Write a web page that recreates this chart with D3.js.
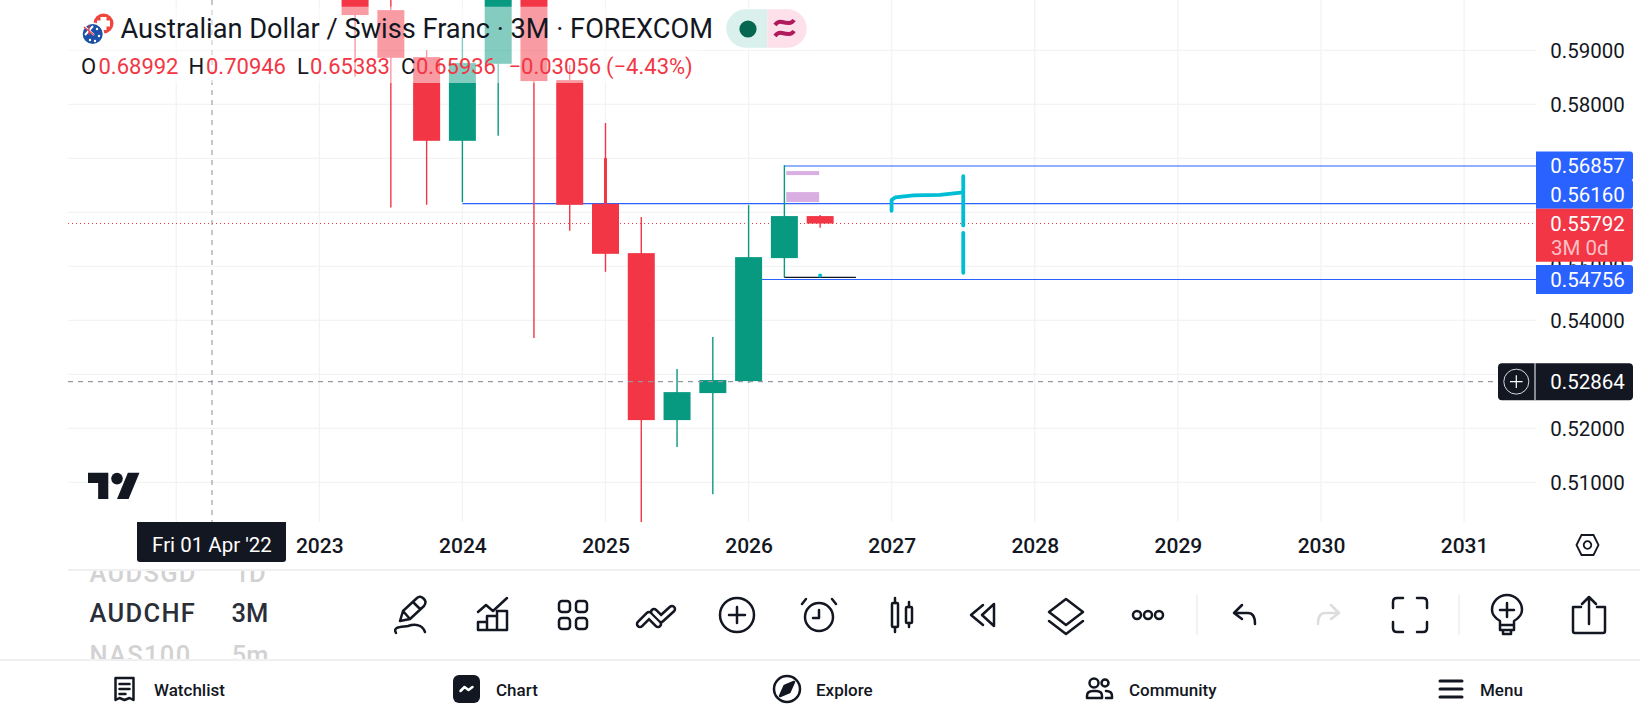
<!DOCTYPE html>
<html>
<head>
<meta charset="utf-8">
<title>AUDCHF 3M</title>
<script src="https://cdn.jsdelivr.net/npm/d3@7"></script>
<style>
  html, body { margin: 0; padding: 0; background: #fff; overflow: hidden; }
  svg { display: block; font-family: Roboto, sans-serif; }
</style>
</head>
<body>
<div id="chart"></div>
<script>
// Candles, quarter start as decimal year
const quarters = [2023.25, 2023.5, 2023.75, 2024, 2024.25, 2024.5, 2024.75, 2025, 2025.25, 2025.5, 2025.75, 2026, 2026.25, 2026.5];
const opens  = [0.60300, 0.59744, 0.58874, 0.57324, 0.58750, 0.60208, 0.58448, 0.56157, 0.55244, 0.52152, 0.52652, 0.52874, 0.55152, 0.55930];
const highs  = [0.60485, 0.60300, 0.59004, 0.59244, 0.60393, 0.60393, 0.58726, 0.57652, 0.55911, 0.53096, 0.53689, 0.56133, 0.56874, 0.55948];
const lows   = [0.58509, 0.56091, 0.56139, 0.56189, 0.57417, 0.53670, 0.55657, 0.54898, 0.50250, 0.51652, 0.50781, 0.52843, 0.54794, 0.55713];
const closes = [0.59652, 0.58861, 0.57324, 0.58763, 0.60208, 0.58430, 0.56139, 0.55231, 0.52152, 0.52670, 0.52893, 0.55170, 0.55930, 0.55792];

const priceTicks = [0.51, 0.52, 0.53, 0.54, 0.55, 0.56, 0.57, 0.58, 0.59];
// the others sit under the price tags
const priceLabels = [0.51, 0.52, 0.54, 0.55, 0.58, 0.59];
const yearTicks = [2023, 2024, 2025, 2026, 2027, 2028, 2029, 2030, 2031];
const gridYears = [2022].concat(yearTicks);

// Drawings on the chart: [price, from year]
const blueLevels = [[0.56857, 2026.25], [0.56160, 2024], [0.54756, 2026]];
const lastPrice = 0.55792;
const crossPrice = 0.52864;
const crossTime = 2022.25;
const purpleZones = [[2026.263, 2026.493, 0.56763, 0.56689], [2026.263, 2026.493, 0.56374, 0.56189]];
const blackSegment = [[2026.25, 0.54794], [2026.75, 0.54794]];
const brushDot = [2026.5, 0.54830];
const brushCurve = [[2026.999, 0.56028], [2026.999, 0.56226], [2027.024, 0.56276], [2027.152, 0.56313], [2027.339, 0.56324], [2027.498, 0.56369]];
const brushBars = [[[2027.5, 0.5667], [2027.5, 0.55757]], [[2027.5, 0.5562], [2027.5, 0.5488]]];
const spikeWick = [2025, 0.57004, 0.5616];

const titleText = "Australian Dollar / Swiss Franc · 3M · FOREXCOM";
const ohlcLabels = ["O", "H", "L", "C"];
const ohlcValues = ["0.68992", "0.70946", "0.65383", "0.65936"];
const ohlcChange = "−0.03056";
const ohlcPercent = "(−4.43%)";
const watchSymbols = ["AUDSGD", "AUDCHF", "NAS100"];
const watchFrames = ["1D", "3M", "5m"];
const navLabels = ["Watchlist", "Chart", "Explore", "Community", "Menu"];

const width = 1640, height = 720;
const RED = "#f23645", GREEN = "#089981", BLUE = "#2962ff", INK = "#131722", GRID = "#f2f3f5", CYAN = "#00bcd4";

const svg = d3.select("#chart").append("svg")
  .attr("width", width)
  .attr("height", height);

const x = d3.scaleLinear().domain([2022, 2031]).range([176.2, 1464.1]);
const y = d3.scaleLinear().domain([0.50, 0.59]).range([536.3, 50.3]);

const plotLeft = 68, plotRight = 1536, plotBottom = 522;
const candleWidth = 27;

svg.append("clipPath").attr("id", "plot")
  .append("rect").attr("x", plotLeft).attr("y", 0).attr("width", plotRight - plotLeft).attr("height", plotBottom);

const plot = svg.append("g").attr("clip-path", "url(#plot)");

// Grid
plot.selectAll(".gridH").data(priceTicks).enter().append("line")
  .attr("x1", plotLeft).attr("x2", plotRight)
  .attr("y1", d => y(d)).attr("y2", d => y(d))
  .attr("stroke", GRID).attr("stroke-width", 1.3);
plot.selectAll(".gridV").data(gridYears).enter().append("line")
  .attr("x1", d => x(d)).attr("x2", d => x(d))
  .attr("y1", 0).attr("y2", plotBottom)
  .attr("stroke", GRID).attr("stroke-width", 1.3);

// Last price dotted line
plot.append("line")
  .attr("x1", plotLeft).attr("x2", plotRight)
  .attr("y1", y(lastPrice)).attr("y2", y(lastPrice))
  .attr("stroke", RED).attr("stroke-width", 1.4).attr("stroke-dasharray", "1.4 2.6")
  .attr("shape-rendering", "crispEdges");

// Horizontal rays
plot.selectAll(".ray").data(blueLevels).enter().append("line")
  .attr("x1", d => x(d[1])).attr("x2", plotRight)
  .attr("y1", d => y(d[0])).attr("y2", d => y(d[0]))
  .attr("stroke", BLUE).attr("stroke-width", 1.1);

// Candles
const candleColor = i => closes[i] >= opens[i] ? GREEN : RED;
plot.selectAll(".wick").data(quarters).enter().append("line")
  .attr("x1", d => x(d)).attr("x2", d => x(d))
  .attr("y1", (d, i) => y(highs[i])).attr("y2", (d, i) => y(lows[i]))
  .attr("stroke", (d, i) => candleColor(i)).attr("stroke-width", 1.4);
plot.append("line")
  .attr("x1", x(spikeWick[0])).attr("x2", x(spikeWick[0]))
  .attr("y1", y(spikeWick[1])).attr("y2", y(spikeWick[2]))
  .attr("stroke", RED).attr("stroke-width", 3);
plot.selectAll(".body").data(quarters).enter().append("rect")
  .attr("x", d => x(d) - candleWidth / 2)
  .attr("width", candleWidth)
  .attr("y", (d, i) => y(Math.max(opens[i], closes[i])))
  .attr("height", (d, i) => Math.abs(y(opens[i]) - y(closes[i])))
  .attr("fill", (d, i) => candleColor(i));

// Drawing tools
plot.selectAll(".zone").data(purpleZones).enter().append("rect")
  .attr("x", d => x(d[0])).attr("width", d => x(d[1]) - x(d[0]))
  .attr("y", d => y(d[2])).attr("height", d => y(d[3]) - y(d[2]))
  .attr("fill", "#d9aee2");

const line = d3.line().x(d => x(d[0])).y(d => y(d[1]));
plot.append("path").attr("d", line(blackSegment))
  .attr("fill", "none").attr("stroke", INK).attr("stroke-width", 1.4);
plot.append("circle").attr("cx", x(brushDot[0])).attr("cy", y(brushDot[1])).attr("r", 2).attr("fill", CYAN);
plot.append("path").attr("d", line(brushCurve))
  .attr("fill", "none").attr("stroke", CYAN).attr("stroke-width", 3.8)
  .attr("stroke-linecap", "round").attr("stroke-linejoin", "round");
plot.selectAll(".brushBar").data(brushBars).enter().append("path")
  .attr("d", d => line(d))
  .attr("fill", "none").attr("stroke", CYAN).attr("stroke-width", 3.8).attr("stroke-linecap", "round");

// Crosshair
plot.append("line")
  .attr("x1", plotLeft).attr("x2", 1498)
  .attr("y1", y(crossPrice)).attr("y2", y(crossPrice))
  .attr("stroke", "#9598a1").attr("stroke-dasharray", "5 5").attr("stroke-width", 1.1);
plot.append("line")
  .attr("x1", x(crossTime)).attr("x2", x(crossTime))
  .attr("y1", 0).attr("y2", plotBottom)
  .attr("stroke", "#9598a1").attr("stroke-dasharray", "5 5").attr("stroke-width", 1.1);

// White wash behind the legend text
plot.append("rect").attr("x", plotLeft).attr("y", 6.7).attr("width", 747).attr("height", 43.5).attr("fill", "#fff").attr("fill-opacity", 0.5);
plot.append("rect").attr("x", plotLeft).attr("y", 50.2).attr("width", 632).attr("height", 32.8).attr("fill", "#fff").attr("fill-opacity", 0.5);

// Price axis
const priceAxis = d3.axisRight(y).tickValues(priceLabels).tickFormat(d3.format(".5f")).tickSize(0);
const gPrice = svg.append("g").attr("transform", "translate(1587.5,0)").call(priceAxis);
gPrice.select(".domain").remove();
gPrice.selectAll("text")
  .attr("x", 0).attr("dy", "0.34em").attr("text-anchor", "middle")
  .attr("font-family", "Roboto, sans-serif").attr("font-size", 20.5).attr("fill", INK);

// Time axis
const timeAxis = d3.axisBottom(x).tickValues(yearTicks).tickFormat(d3.format("d")).tickSize(0);
const gTime = svg.append("g").attr("transform", "translate(0,545.5)").call(timeAxis);
gTime.select(".domain").remove();
gTime.selectAll("text")
  .attr("y", 0).attr("dy", "0.38em")
  .attr("font-family", "Roboto, sans-serif").attr("font-size", 21).attr("font-weight", 500).attr("fill", INK);

// Price tags
const tagX = 1536, tagW = 97, tagH = 29;
function tag(cy, h, fill) {
  svg.append("path")
    .attr("d", `M${tagX} ${cy - h / 2}H${tagX + tagW - 3}q3 0 3 3V${cy + h / 2 - 3}q0 3 -3 3H${tagX}Z`)
    .attr("fill", fill);
}
function tagText(cy, txt, fill) {
  svg.append("text").attr("x", 1587.5).attr("y", cy).attr("dy", "0.36em")
    .attr("text-anchor", "middle").attr("font-size", 20.5).attr("fill", fill || "#fff").text(txt);
}
const fmt = d3.format(".5f");
const redTop = y(lastPrice) - 14.7;
blueLevels.forEach(d => {
  const cy = Math.min(y(d[0]), d[0] > lastPrice ? redTop - 14.5 : 1e4);
  tag(cy, tagH, BLUE);
  tagText(cy, fmt(d[0]));
});
svg.append("path")
  .attr("d", `M${tagX} ${redTop}H${tagX + tagW}V${redTop + 50}q0 3 -3 3H${tagX}Z`)
  .attr("fill", RED);
tagText(y(lastPrice), fmt(lastPrice));
svg.append("text").attr("x", 1551).attr("y", y(lastPrice) + 24.5).attr("dy", "0.36em")
  .attr("font-size", 20.5).attr("fill", "#ffc0c6").text("3M 0d");

// Crosshair tags
const crossY = y(crossPrice);
svg.append("rect").attr("x", 1498).attr("y", crossY - 18.5).attr("width", 135).attr("height", 37).attr("rx", 4).attr("fill", INK);
svg.append("line").attr("x1", 1535).attr("x2", 1535).attr("y1", crossY - 18.5).attr("y2", crossY + 18.5).attr("stroke", "#fff");
svg.append("circle").attr("cx", 1516.3).attr("cy", crossY).attr("r", 12.5).attr("fill", "none").attr("stroke", "#d8d9dc").attr("stroke-width", 1);
svg.append("path").attr("d", `M1510 ${crossY}h12.6M1516.3 ${crossY - 6.3}v12.6`).attr("stroke", "#fff").attr("stroke-width", 1.2);
tagText(crossY, fmt(crossPrice));

svg.append("path").attr("d", "M137 522H286V559q0 3 -3 3H140q-3 0 -3 -3Z").attr("fill", INK);
svg.append("text").attr("x", x(crossTime)).attr("y", 545).attr("dy", "0.36em")
  .attr("text-anchor", "middle").attr("font-size", 20.5).attr("fill", "#fff").text("Fri 01 Apr '22");

// Legend
svg.append("text").attr("x", 120.5).attr("y", 38).attr("font-size", 27.2).attr("fill", INK).text(titleText);
const labelX = [81, 188.5, 297, 401], valueX = [98.5, 206, 310, 416];
svg.selectAll(".ohlcL").data(ohlcLabels).enter().append("text")
  .attr("x", (d, i) => labelX[i]).attr("y", 74).attr("font-size", 22).attr("fill", INK).text(d => d);
svg.selectAll(".ohlcV").data(ohlcValues).enter().append("text")
  .attr("x", (d, i) => valueX[i]).attr("y", 74).attr("font-size", 22).attr("fill", RED).text(d => d);
svg.append("text").attr("x", 508.5).attr("y", 74).attr("font-size", 22).attr("fill", RED).text(ohlcChange);
svg.append("text").attr("x", 606).attr("y", 74).attr("font-size", 22).attr("fill", RED).text(ohlcPercent);

// Flags
const flags = svg.append("g");
flags.append("circle").attr("cx", 103.5).attr("cy", 23.5).attr("r", 10).attr("fill", "#f0443f");
flags.append("path").attr("d", "M100.5 17h6v3.5h3.5v6h-3.5V30h-6v-3.5H97v-6h3.5Z").attr("fill", "#fff");
flags.append("circle").attr("cx", 92.7).attr("cy", 34).attr("r", 11.5).attr("fill", "#fff");
flags.append("circle").attr("cx", 92.7).attr("cy", 34).attr("r", 10).attr("fill", "#1c50a8");
flags.append("path").attr("d", "M84 26l10 9M93 26l-8 9").attr("stroke", "#fff").attr("stroke-width", 2);
flags.append("path").attr("d", "M84 27l10 8M89 25v10").attr("stroke", "#e33b4b").attr("stroke-width", 1.2);
flags.selectAll(".star").data([[90, 40], [97, 29], [99, 36], [95, 41]]).enter().append("circle")
  .attr("cx", d => d[0]).attr("cy", d => d[1]).attr("r", 1.2).attr("fill", "#fff");

// Market status pill
svg.append("path").attr("d", "M767.3 9.3H745.5a19.2 19.2 0 0 0 0 38.4H767.3Z").attr("fill", "#d9f0ec");
svg.append("path").attr("d", "M767.3 9.3H787.5a19.2 19.2 0 0 1 0 38.4H767.3Z").attr("fill", "#fde0ea");
svg.append("circle").attr("cx", 748).attr("cy", 29).attr("r", 8.6).attr("fill", "#05674f");
svg.append("path").attr("d", "M775 25q3 -4 7 -3t7 1q3 0 5 -3M775 36q3 -4 7 -3t7 1q3 0 5 -3")
  .attr("fill", "none").attr("stroke", "#b0195b").attr("stroke-width", 4);

// TradingView logo
const logo = svg.append("g").attr("transform", "translate(88,467) scale(1.45)").attr("fill", INK);
logo.append("path").attr("d", "M14 22H7V11H0V4h14v18zM28 22h-8l7.5-18h8L28 22z");
logo.append("circle").attr("cx", 20).attr("cy", 8).attr("r", 4);

// Settings hexagon
const hex = svg.append("g").attr("transform", "translate(1587.5,545)").attr("fill", "none").attr("stroke", INK).attr("stroke-width", 1.8);
hex.append("path").attr("d", "M-11 0L-6 -10H6L11 0L6 10H-6Z");
hex.append("circle").attr("r", 3.8);

// Panel separators
svg.append("line").attr("x1", plotLeft).attr("x2", width).attr("y1", 570).attr("y2", 570).attr("stroke", "#f0f0f0").attr("stroke-width", 2);
svg.append("line").attr("x1", 0).attr("x2", width).attr("y1", 660).attr("y2", 660).attr("stroke", "#f0f0f0").attr("stroke-width", 2);

// Watchlist wheel, the outer rows are cut by the panel
svg.append("clipPath").attr("id", "wheel")
  .append("rect").attr("x", 70).attr("y", 571).attr("width", 260).attr("height", 88);
const wheel = svg.append("g").attr("clip-path", "url(#wheel)");
const wheelY = [573, 613, 655], wheelFill = ["#d2d2d4", "#2a2e39", "#d2d2d4"];
wheel.selectAll(".sym").data(watchSymbols).enter().append("text")
  .attr("x", 89.5).attr("y", (d, i) => wheelY[i]).attr("dy", "0.36em")
  .attr("font-size", 25.5).attr("font-weight", 500).attr("letter-spacing", 1.3)
  .attr("fill", (d, i) => wheelFill[i]).text(d => d);
wheel.selectAll(".frame").data(watchFrames).enter().append("text")
  .attr("x", 250).attr("y", (d, i) => wheelY[i]).attr("dy", "0.36em").attr("text-anchor", "middle")
  .attr("font-size", 25.5).attr("font-weight", 500)
  .attr("fill", (d, i) => wheelFill[i]).text(d => d);

// Toolbar icons
function icon(cx, cy, col) {
  return svg.append("g").attr("transform", `translate(${cx},${cy})`)
    .attr("fill", "none").attr("stroke", col || INK).attr("stroke-width", 2.5)
    .attr("stroke-linejoin", "round").attr("stroke-linecap", "round");
}
const toolY = 615;
let ic = icon(411, toolY);
ic.append("path").attr("d", "M-11 6L-8 -4L6 -17Q9 -20 13 -16Q16 -13 13 -9L-1 4Z M2 -13L9 -6 M-8 -4L-1 4");
ic.append("path").attr("d", "M-15 18C-19 11 -8 12 -3 11C3 9 11 9 14 17");
ic = icon(493, toolY);
ic.append("path").attr("d", "M-15 15V7H-6V15Z M-6 15V1H4V15Z M4 15V-4H14V15Z M-15 -3L-7 -10L0 -4L14 -17");
ic = icon(573, toolY);
[[-14, -14], [3, -14], [-14, 3], [3, 3]].forEach(p => ic.append("rect").attr("x", p[0]).attr("y", p[1]).attr("width", 11).attr("height", 11).attr("rx", 3));
ic = icon(656, toolY);
ic.append("path").attr("d", "M-16 9L-7 0L2 9").attr("stroke-width", 8.5);
ic.append("path").attr("d", "M-2 -3L5 4L16 -6").attr("stroke-width", 8.5);
ic.append("path").attr("d", "M-16 9L-7 0L2 9").attr("stroke", "#fff").attr("stroke-width", 3.4);
ic.append("path").attr("d", "M-2 -3L5 4L16 -6").attr("stroke", "#fff").attr("stroke-width", 3.4);
ic = icon(737, toolY);
ic.append("circle").attr("r", 17);
ic.append("path").attr("d", "M-8 0H8M0 -8V8");
ic = icon(819, toolY);
ic.append("circle").attr("cy", 2).attr("r", 14);
ic.append("path").attr("d", "M0 -5V3H-6 M-17 -11L-13 -16 M17 -11L13 -16");
ic = icon(902, toolY);
ic.append("rect").attr("x", -10).attr("y", -12).attr("width", 6).attr("height", 24).attr("rx", 1);
ic.append("path").attr("d", "M-7 -17V-12M-7 12V17 M7 -13V-8M7 8V12");
ic.append("rect").attr("x", 4).attr("y", -8).attr("width", 6).attr("height", 16).attr("rx", 1);
ic = icon(983, toolY);
ic.append("path").attr("d", "M0 -10L-12 0L0 10 M11 -11L-1 0L11 11Z");
ic = icon(1066, toolY);
ic.append("path").attr("d", "M0 -16L17 -3L0 10L-17 -3Z M-17 6L0 19L17 6");
ic = icon(1148, toolY);
[-11, 0, 11].forEach(c => ic.append("circle").attr("cx", c).attr("r", 4));
svg.append("line").attr("x1", 1197).attr("x2", 1197).attr("y1", 595).attr("y2", 635).attr("stroke", "#eeeeee").attr("stroke-width", 1.5);
ic = icon(1245, toolY);
ic.append("path").attr("d", "M-3 -10L-11 -2L-3 4 M-11 -2H3Q10 -2 10 9");
ic = icon(1328, toolY, "#dddddd");
ic.append("path").attr("d", "M3 -10L11 -2L3 4 M11 -2H-3Q-10 -2 -10 9");
ic = icon(1410, toolY);
ic.append("path").attr("d", "M-17 -7V-13Q-17 -17 -13 -17H-7 M7 -17H13Q17 -17 17 -13V-7 M17 7V13Q17 17 13 17H7 M-7 17H-13Q-17 17 -17 13V7");
svg.append("line").attr("x1", 1459).attr("x2", 1459).attr("y1", 595).attr("y2", 635).attr("stroke", "#eeeeee").attr("stroke-width", 1.5);
ic = icon(1507, toolY);
ic.append("path").attr("d", "M-7 10V6C-12 3 -15 -1 -15 -5A15 15 0 0 1 15 -5C15 -1 12 3 7 6V10Z M-7 10H7V15H-7Z M-4 15V19H4V15 M-7 -5H7M0 -12V2");
ic = icon(1589, toolY);
ic.append("path").attr("d", "M-8 -8H-16V16Q-16 18 -14 18H14Q16 18 16 16V-8H8 M0 9V-18 M-7 -11L0 -18L7 -11");

// Bottom navigation
const navIconX = [124.5, 466.5, 787, 1099, 1451];
const navTextX = [154, 496, 816, 1129, 1480];
const navY = 689;
svg.selectAll(".nav").data(navLabels).enter().append("text")
  .attr("x", (d, i) => navTextX[i]).attr("y", navY + 0.8).attr("dy", "0.36em")
  .attr("font-size", 17).attr("font-weight", 500).attr("fill", INK).text(d => d);
ic = icon(navIconX[0], navY);
ic.append("path").attr("d", "M-9 -11H9V11L5 9L0 11L-5 9L-9 11Z M-5 -5H5M-5 0H5M-5 5H1");
svg.append("rect").attr("x", 453).attr("y", 675).attr("width", 27).attr("height", 28).attr("rx", 6).attr("fill", INK);
ic = icon(navIconX[1], navY, "#fff");
ic.append("path").attr("d", "M-6 2L-2 -2L2 1L6 -2");
ic = icon(navIconX[2], navY);
ic.append("circle").attr("r", 13);
ic.append("path").attr("d", "M7 -7L2.5 3L-7 7L-2.5 -3Z").attr("fill", INK);
ic = icon(navIconX[3], navY);
ic.append("circle").attr("cx", -5).attr("cy", -6).attr("r", 4.5);
ic.append("circle").attr("cx", 6).attr("cy", -6).attr("r", 3.5);
ic.append("path").attr("d", "M-12 9V7Q-12 2 -6 2H-3Q3 2 3 7V9Z M7 2Q13 2 13 7V9H7");
ic = icon(navIconX[4], navY);
ic.append("path").attr("d", "M-11 -8H11M-11 0H11M-11 8H11").attr("stroke-width", 3);
</script>
</body>
</html>
